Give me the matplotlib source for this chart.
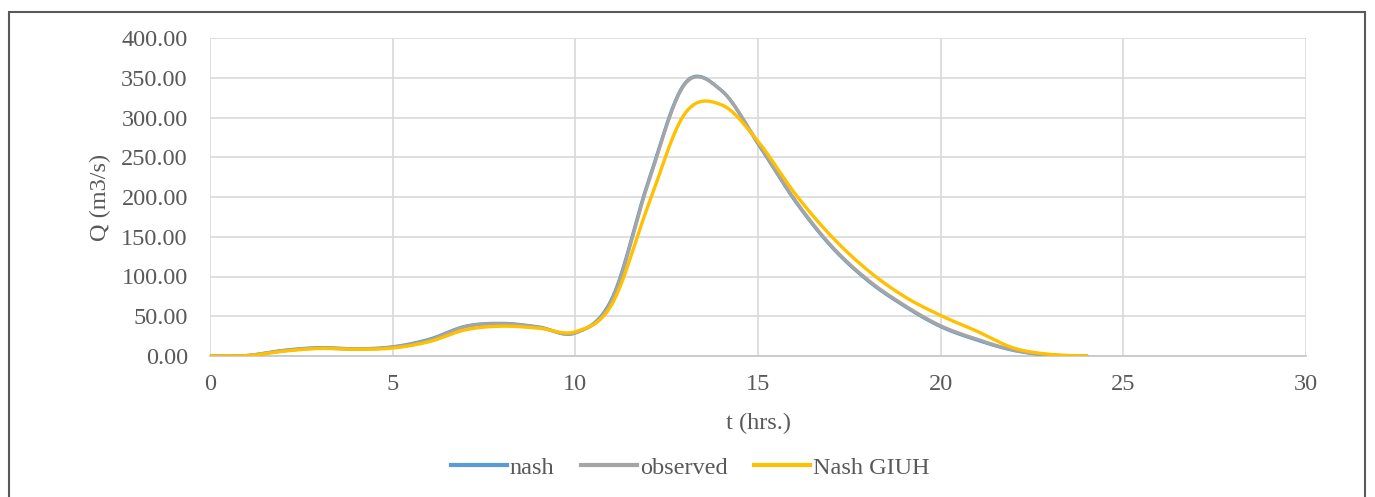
import numpy as np
import matplotlib
matplotlib.use("Agg")
import matplotlib.pyplot as plt
from matplotlib.patches import Rectangle
from matplotlib.lines import Line2D

# ---- data ----
t_hours = list(range(0, 25))
nash = [0, 0.5, 7, 10.5, 9, 11.5, 21, 37.5, 41, 36.5, 29, 72, 220, 343, 334,
        267, 196, 138, 95, 63, 37, 20, 7, 1, 0]
observed = [0, 0.5, 6.5, 10, 8.5, 11, 20, 37, 40.5, 36, 29.3, 70, 218, 342, 334,
            268, 197, 139, 96, 64, 38, 21, 7.5, 1.3, 0]
nash_giuh = [0, 0.3, 6, 9.5, 8.5, 10, 18, 33, 37.5, 35, 30.5, 65, 190, 305, 316,
             270, 205, 151, 108, 75, 51, 31, 10, 2, 0]
series_names = ["nash", "observed", "Nash GIUH"]
series_colors = ["#5B9BD5", "#A5A5A5", "#FFC000"]
x_ticks = [0, 5, 10, 15, 20, 25, 30]
y_ticks = [0, 50, 100, 150, 200, 250, 300, 350, 400]


def smooth(x, y, n=30):
    """Catmull-Rom style smoothing like Excel's smoothed lines."""
    x = np.asarray(x, float)
    y = np.asarray(y, float)
    P = np.column_stack([x, y])
    Pp = np.vstack([P[0], P, P[-1]])
    out = []
    for i in range(len(P) - 1):
        p0, p1, p2, p3 = Pp[i], Pp[i + 1], Pp[i + 2], Pp[i + 3]
        m1 = (p2 - p0) / 2.0
        m2 = (p3 - p1) / 2.0
        s = np.linspace(0, 1, n, endpoint=False)[:, None]
        h00 = 2 * s**3 - 3 * s**2 + 1
        h10 = s**3 - 2 * s**2 + s
        h01 = -2 * s**3 + 3 * s**2
        h11 = s**3 - s**2
        out.append(h00 * p1 + h10 * m1 + h01 * p2 + h11 * m2)
    out.append(P[-1][None, :])
    out = np.vstack(out)
    return out[:, 0], out[:, 1]


W, H = 1375, 497
fig = plt.figure(figsize=(W / 100, H / 100), dpi=100)
plt.rcParams['font.family'] = ['Liberation Serif', 'DejaVu Serif']

ax = fig.add_axes([210 / W, 1 - 356 / H, (1306 - 210) / W, (356 - 38) / H])

fs = 17.5
tc = "#595959"

for vals, name, col in zip([nash, observed, nash_giuh], series_names, series_colors):
    sx, sy = smooth(t_hours, vals)
    ax.plot(sx, sy, color=col, lw=2.4, label=name, solid_capstyle='round', zorder=3)

ax.set_xlim(0, 30)
ax.set_ylim(0, 400)
ax.set_xticks(x_ticks)
ax.set_yticks(y_ticks)
ax.set_yticklabels([f"{v:.2f}" for v in y_ticks])
ax.tick_params(axis='both', length=0, labelsize=fs, colors=tc)
ax.tick_params(axis='y', pad=16)
ax.tick_params(axis='x', pad=13)
ax.grid(True, color="#D9D9D9", lw=1.2, zorder=0)
for sp in ['top', 'right', 'left']:
    ax.spines[sp].set_visible(False)
ax.spines['bottom'].set_color("#C8C8C8")
ax.spines['bottom'].set_linewidth(1.3)
ax.set_axisbelow(True)

ax.set_ylabel("Q (m3/s)", fontsize=fs, color=tc, labelpad=7)
ax.set_xlabel("t (hrs.)", fontsize=fs, color=tc, labelpad=13)

handles = [Line2D([0], [0], color=c, lw=3) for c in series_colors]
fig.legend(handles, series_names, loc='center', bbox_to_anchor=(690 / W, 1 - 468 / H),
           ncol=3, frameon=False, fontsize=fs, labelcolor=tc,
           handlelength=2.3, handletextpad=0.12, columnspacing=1.1)

fig.patches.append(Rectangle((8.5 / W, -0.05), (1365 - 8.5) / W, 1.05 - 12 / H,
                             transform=fig.transFigure, fill=False,
                             edgecolor="#595959", lw=1.5))

fig.savefig("out.png", dpi=100, facecolor="white")
